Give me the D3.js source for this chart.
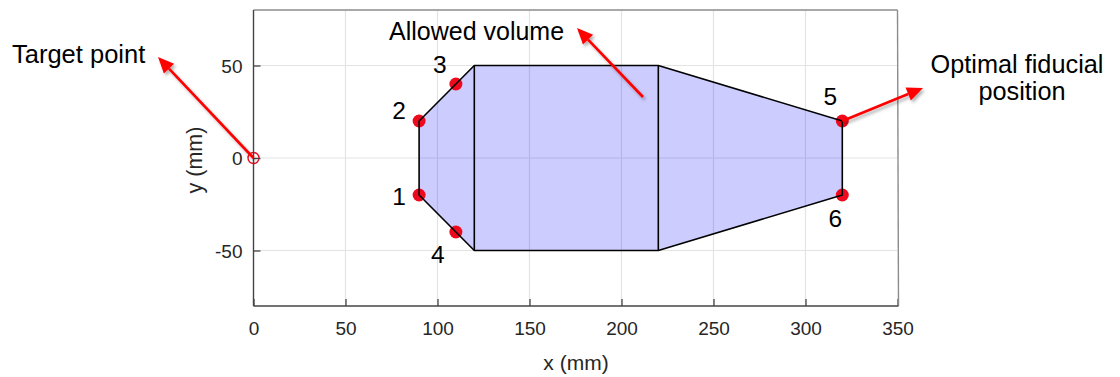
<!DOCTYPE html>
<html>
<head>
<meta charset="utf-8">
<script src="https://cdn.jsdelivr.net/npm/d3@7"></script>
<style>
  html, body { margin: 0; padding: 0; background: #fff; }
  svg { display: block; font-family: Arial, "Liberation Sans", sans-serif; }
</style>
</head>
<body>
<svg id="chart" width="1120" height="377"></svg>
<script>
// Axis ticks
const xTicks = [0, 50, 100, 150, 200, 250, 300, 350];
const yTicks = [-50, 0, 50];

// Outline of the allowed volume (x, y in mm)
const volumeX = [90, 120, 220, 320, 320, 220, 120, 90];
const volumeY = [20, 50, 50, 20, -20, -50, -50, -20];

// Internal dividers of the volume
const dividerX = [120, 220];
const dividerY = [-50, 50];

// Fiducial candidates
const fidLabels = ["1", "2", "3", "4", "5", "6"];
const fidX = [90, 90, 110, 110, 320, 320];
const fidY = [-20, 20, 40, -40, 20, -20];

// Target point
const targetX = [0];
const targetY = [0];

const svg = d3.select("#chart");
const plotLeft = 253.5, plotRight = 897.5, plotTop = 10, plotBottom = 306;

const x = d3.scaleLinear().domain([0, 350]).range([plotLeft, plotRight]);
const y = d3.scaleLinear().domain([-80, 80]).range([plotBottom, plotTop]);

const defs = svg.append("defs");
const shadow = defs.append("filter").attr("id", "shadow")
  .attr("x", "-20%").attr("y", "-20%").attr("width", "140%").attr("height", "140%");
shadow.append("feDropShadow").attr("dx", 2).attr("dy", 2.5)
  .attr("stdDeviation", 1.6).attr("flood-color", "#000").attr("flood-opacity", 0.3);

// Grid
const grid = svg.append("g").attr("stroke", "#e3e3e3").attr("stroke-width", 1.2);
grid.selectAll("line.gx").data(xTicks.filter(d => d > 0 && d < 350)).join("line")
  .attr("class", "gx")
  .attr("x1", d => x(d)).attr("x2", d => x(d)).attr("y1", plotTop).attr("y2", plotBottom);
grid.selectAll("line.gy").data(yTicks).join("line")
  .attr("class", "gy")
  .attr("y1", d => y(d)).attr("y2", d => y(d)).attr("x1", plotLeft).attr("x2", plotRight);

// Allowed volume
const pts = volumeX.map((vx, i) => [x(vx), y(volumeY[i])]);
svg.append("path")
  .attr("d", d3.line()(pts) + "Z")
  .attr("fill", "rgba(0,0,255,0.2)")
  .attr("stroke", "none");

// Fiducial points (drawn beneath the outline)
svg.append("g").selectAll("circle").data(fidX).join("circle")
  .attr("cx", d => x(d)).attr("cy", (d, i) => y(fidY[i]))
  .attr("r", 6.5).attr("fill", "#ee0a1e");

svg.append("path")
  .attr("d", d3.line()(pts) + "Z")
  .attr("fill", "none").attr("stroke", "#000").attr("stroke-width", 1.6)
  .attr("stroke-linejoin", "round");
svg.append("g").selectAll("line").data(dividerX).join("line")
  .attr("x1", d => x(d)).attr("x2", d => x(d))
  .attr("y1", y(dividerY[0])).attr("y2", y(dividerY[1]))
  .attr("stroke", "#000").attr("stroke-width", 1.6);

// Target point
svg.append("circle")
  .attr("cx", x(targetX[0])).attr("cy", y(targetY[0])).attr("r", 5.5)
  .attr("fill", "none").attr("stroke", "#ee0a1e").attr("stroke-width", 1.4);

// Axes
const xAxis = d3.axisBottom(x).tickValues(xTicks).tickSize(-7).tickPadding(16).tickFormat(d3.format("d"));
const yAxis = d3.axisLeft(y).tickValues(yTicks).tickSize(-7).tickPadding(11).tickFormat(d3.format("d"));

const gx = svg.append("g").attr("transform", `translate(0,${plotBottom})`).call(xAxis);
const gy = svg.append("g").attr("transform", `translate(${plotLeft},0)`).call(yAxis);
[gx, gy].forEach(g => {
  g.select(".domain").remove();
  g.selectAll(".tick line").attr("stroke", "#444").attr("stroke-width", 1.3);
  g.selectAll(".tick text").attr("fill", "#262626").attr("font-size", 19)
    .attr("font-family", "Arial, 'Liberation Sans', sans-serif");
});
gx.selectAll(".tick text").attr("dy", "0.71em");
gy.selectAll(".tick text").attr("dy", "0.36em").text(d => d < 0 ? "-" + Math.abs(d) : d);

// Box
svg.append("line").attr("x1", plotLeft).attr("x2", plotRight).attr("y1", plotTop).attr("y2", plotTop)
  .attr("stroke", "#8c8c8c").attr("stroke-width", 1.4);
svg.append("line").attr("x1", plotRight).attr("x2", plotRight + 1).attr("y1", plotTop).attr("y2", plotBottom)
  .attr("stroke", "#8c8c8c").attr("stroke-width", 1.4);
svg.append("line").attr("x1", plotLeft).attr("x2", plotLeft).attr("y1", plotTop).attr("y2", plotBottom)
  .attr("stroke", "#444").attr("stroke-width", 1.4);
svg.append("line").attr("x1", plotLeft).attr("x2", plotRight + 1).attr("y1", plotBottom).attr("y2", plotBottom)
  .attr("stroke", "#444").attr("stroke-width", 1.4);

// Axis titles
svg.append("text").attr("x", 576).attr("y", 370).attr("text-anchor", "middle")
  .attr("font-size", 21).attr("fill", "#262626").text("x (mm)");
svg.append("text").attr("transform", "translate(202,160) rotate(-90)")
  .attr("text-anchor", "middle").attr("font-size", 21.5).attr("fill", "#262626").text("y (mm)");

// Point numbers
const labelOffsets = [[-20, 10], [-20, -2], [-16, -11], [-18, 31], [-12, -16], [-7, 32]];
svg.append("g").selectAll("text").data(fidLabels).join("text")
  .attr("x", (d, i) => x(fidX[i]) + labelOffsets[i][0])
  .attr("y", (d, i) => y(fidY[i]) + labelOffsets[i][1])
  .attr("text-anchor", "middle").attr("font-size", 24.5).attr("fill", "#000")
  .text(d => d);

// Callout arrows
function arrow(x1, y1, x2, y2) {
  const g = svg.append("g").attr("filter", "url(#shadow)");
  const ang = Math.atan2(y2 - y1, x2 - x1);
  const len = 16, half = 7;
  const bx = x2 - len * Math.cos(ang), by = y2 - len * Math.sin(ang);
  g.append("line").attr("x1", x1).attr("y1", y1).attr("x2", bx).attr("y2", by)
    .attr("stroke", "#f00").attr("stroke-width", 2.6);
  const p = [
    [x2, y2],
    [bx + half * Math.sin(ang), by - half * Math.cos(ang)],
    [bx - half * Math.sin(ang), by + half * Math.cos(ang)]
  ];
  g.append("path").attr("d", d3.line()(p) + "Z").attr("fill", "#f00");
}
arrow(x(targetX[0]), y(targetY[0]), 158, 57);
arrow(643, 97, 577, 28);
arrow(x(fidX[4]), y(fidY[4]), 923, 88);

// Callout texts
svg.append("text").attr("x", 12).attr("y", 63).attr("font-size", 25.5).text("Target point");
svg.append("text").attr("x", 389).attr("y", 40).attr("font-size", 25).text("Allowed volume");
svg.append("text").attr("x", 1017).attr("y", 73).attr("text-anchor", "middle")
  .attr("font-size", 25.3).text("Optimal fiducial");
svg.append("text").attr("x", 1022).attr("y", 100).attr("text-anchor", "middle")
  .attr("font-size", 25.3).text("position");
</script>
</body>
</html>
